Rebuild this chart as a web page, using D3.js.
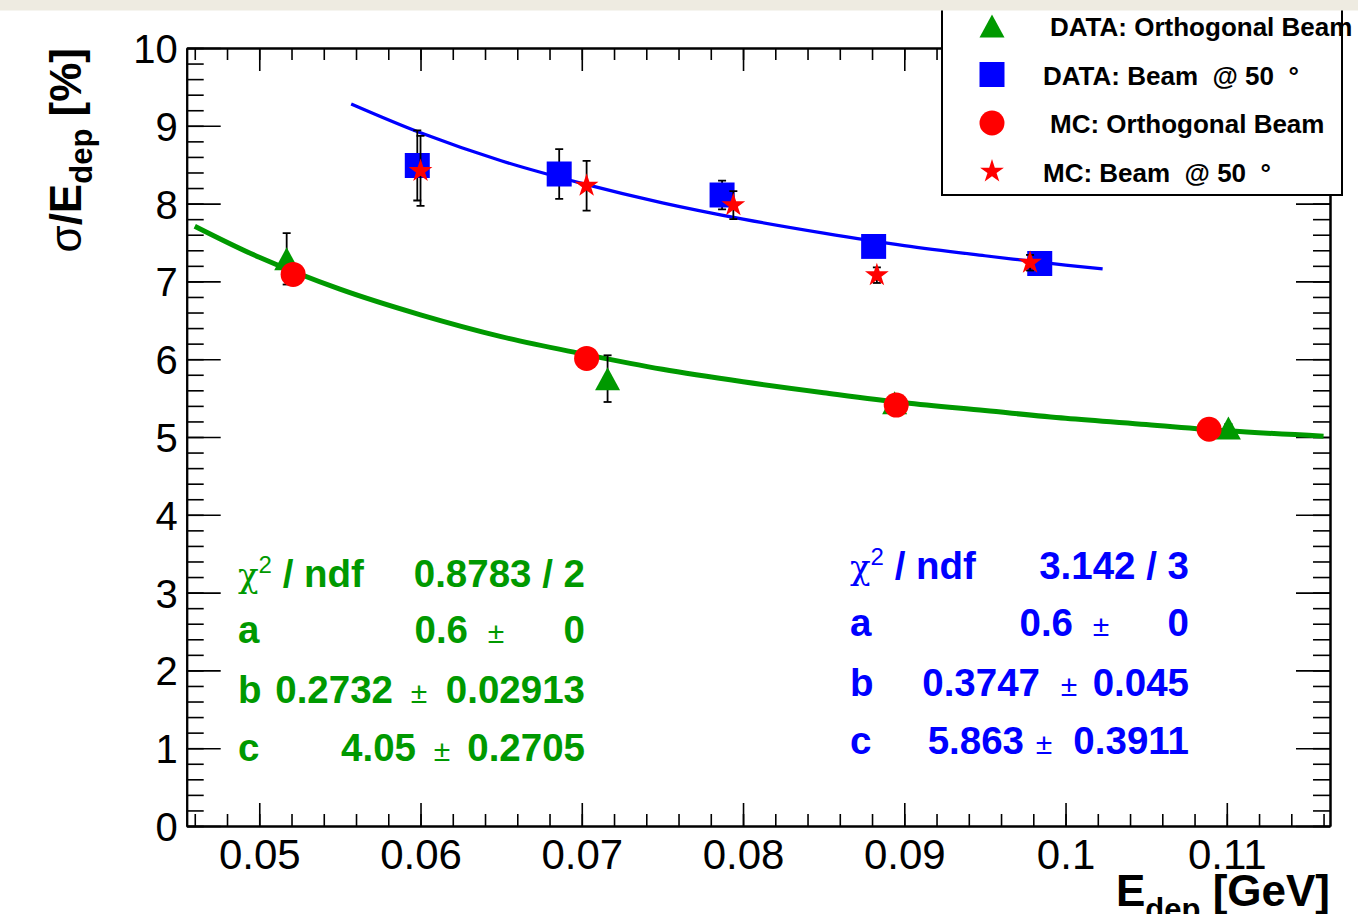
<!DOCTYPE html>
<html>
<head>
<meta charset="utf-8">
<script src="https://cdn.jsdelivr.net/npm/d3@7"></script>
<style>
  html, body { margin: 0; padding: 0; background: #fff; }
  svg { display: block; font-family: "Liberation Sans", Arial, Helvetica, sans-serif; }
</style>
</head>
<body>
<div id="chart"></div>
<script>
// ---- values ----
// DATA: orthogonal beam (green triangles)
const orthoDataE   = [0.0517, 0.0716, 0.0894, 0.1101];
const orthoDataRes = [7.29, 5.75, 5.44, 5.115];
const orthoDataErr = [0.33, 0.30, 0.05, 0.05];

// DATA: beam @ 50 deg (blue squares)
const beamDataE   = [0.0598, 0.0686, 0.0787, 0.0881, 0.0984];
const beamDataRes = [8.49, 8.38, 8.11, 7.45, 7.23];
const beamDataErr = [0.45, 0.32, 0.185, 0.08, 0.08];

// MC: orthogonal beam (red circles)
const orthoMcE   = [0.0521, 0.0703, 0.0895, 0.1089];
const orthoMcRes = [7.09, 6.01, 5.41, 5.10];
const orthoMcErr = [0.05, 0.05, 0.05, 0.05];

// MC: beam @ 50 deg (red stars)
const beamMcE   = [0.0600, 0.0703, 0.0794, 0.0883, 0.0978];
const beamMcRes = [8.42, 8.23, 7.98, 7.08, 7.24];
const beamMcErr = [0.45, 0.32, 0.18, 0.10, 0.10];

// fit curves
const orthoFitE   = [0.046, 0.050, 0.055, 0.060, 0.065, 0.070, 0.075, 0.080, 0.085, 0.090, 0.095, 0.100, 0.105, 0.110, 0.116];
const orthoFitRes = [7.71, 7.31, 6.90, 6.57, 6.29, 6.07, 5.87, 5.71, 5.57, 5.44, 5.34, 5.24, 5.16, 5.08, 5.01];
const beamFitE   = [0.0557, 0.060, 0.065, 0.070, 0.075, 0.080, 0.085, 0.090, 0.095, 0.100, 0.1023];
const beamFitRes = [9.28, 8.91, 8.55, 8.26, 8.01, 7.80, 7.62, 7.46, 7.33, 7.21, 7.16];

// fit results as printed
const orthoFitNames  = ["a", "b", "c"];
const orthoFitValues = ["0.6", "0.2732", "4.05"];
const orthoFitErrors = ["0", "0.02913", "0.2705"];
const orthoChi2 = "0.8783 / 2";
const beamFitNames  = ["a", "b", "c"];
const beamFitValues = ["0.6", "0.3747", "5.863"];
const beamFitErrors = ["0", "0.045", "0.3911"];
const beamChi2 = "3.142 / 3";

// axes
const xDomain = [0.0455, 0.1164];
const yDomain = [0, 10];
const xTicks = [0.05, 0.06, 0.07, 0.08, 0.09, 0.10, 0.11];
const xTickLabels = ["0.05", "0.06", "0.07", "0.08", "0.09", "0.1", "0.11"];
const yTicks = [0, 1, 2, 3, 4, 5, 6, 7, 8, 9, 10];
const yTickLabels = ["0", "1", "2", "3", "4", "5", "6", "7", "8", "9", "10"];

const legendLabels = ["DATA: Orthogonal Beam", "DATA: Beam  @ 50  \u00b0", "MC: Orthogonal Beam", "MC: Beam  @ 50  \u00b0"];

// ---- layout ----
const width = 1358, height = 914;
const frame = { left: 186.7, right: 1330, top: 48, bottom: 826 };
const GREEN = "#009900", BLUE = "#0000ff", RED = "#ff0000";
const FONT = "'Liberation Sans', Arial, Helvetica, sans-serif";

const x = d3.scaleLinear().domain(xDomain).range([frame.left, frame.right]);
const y = d3.scaleLinear().domain(yDomain).range([frame.bottom, frame.top]);

const svg = d3.select("#chart").append("svg")
  .attr("width", width)
  .attr("height", height);

svg.append("rect").attr("width", width).attr("height", height).attr("fill", "#fff");

svg.append("clipPath").attr("id", "frameClip")
  .append("rect")
  .attr("x", frame.left).attr("y", frame.top)
  .attr("width", frame.right - frame.left).attr("height", frame.bottom - frame.top);

// minor tick values
const xMinor = d3.range(0.046, 0.1165, 0.002).map((v) => +v.toFixed(4));
const yMinor = d3.range(0, 10.001, 0.2).map((v) => +v.toFixed(2));

const styleAxis = (g, w) => {
  g.select(".domain").attr("stroke", "#000").attr("stroke-width", 2);
  g.selectAll(".tick line").attr("stroke", "#000").attr("stroke-width", w);
};

// bottom
svg.append("g")
  .attr("transform", `translate(0,${frame.bottom})`)
  .call(d3.axisBottom(x).tickValues(xMinor).tickSize(-12).tickSizeOuter(0).tickFormat(""))
  .call((g) => styleAxis(g, 1.6));
const xAxisG = svg.append("g")
  .attr("transform", `translate(0,${frame.bottom})`)
  .call(d3.axisBottom(x).tickValues(xTicks).tickSize(-23).tickSizeOuter(0).tickPadding(13)
    .tickFormat((d, i) => xTickLabels[i]))
  .call((g) => styleAxis(g, 1.6));
xAxisG.selectAll("text").attr("font-size", 42).attr("font-family", FONT).attr("fill", "#000");

// top
svg.append("g")
  .attr("transform", `translate(0,${frame.top})`)
  .call(d3.axisTop(x).tickValues(xMinor).tickSize(-12).tickSizeOuter(0).tickFormat(""))
  .call((g) => styleAxis(g, 1.6));
svg.append("g")
  .attr("transform", `translate(0,${frame.top})`)
  .call(d3.axisTop(x).tickValues(xTicks).tickSize(-23).tickSizeOuter(0).tickFormat(""))
  .call((g) => styleAxis(g, 1.6));

// left
svg.append("g")
  .attr("transform", `translate(${frame.left},0)`)
  .call(d3.axisLeft(y).tickValues(yMinor).tickSize(-17).tickSizeOuter(0).tickFormat(""))
  .call((g) => styleAxis(g, 1.6));
const yAxisG = svg.append("g")
  .attr("transform", `translate(${frame.left},0)`)
  .call(d3.axisLeft(y).tickValues(yTicks).tickSize(-34).tickSizeOuter(0).tickPadding(9)
    .tickFormat((d, i) => yTickLabels[i]))
  .call((g) => styleAxis(g, 1.6));
yAxisG.selectAll("text").attr("font-size", 40).attr("font-family", FONT).attr("fill", "#000")
  .attr("dy", "0.36em");

// right
svg.append("g")
  .attr("transform", `translate(${frame.right},0)`)
  .call(d3.axisRight(y).tickValues(yMinor).tickSize(-17).tickSizeOuter(0).tickFormat(""))
  .call((g) => styleAxis(g, 1.6));
svg.append("g")
  .attr("transform", `translate(${frame.right},0)`)
  .call(d3.axisRight(y).tickValues(yTicks).tickSize(-34).tickSizeOuter(0).tickFormat(""))
  .call((g) => styleAxis(g, 1.6));

// axis titles
const xTitle = svg.append("text")
  .attr("x", frame.right).attr("y", 906)
  .attr("text-anchor", "end")
  .attr("font-size", 44).attr("font-weight", "bold");
xTitle.append("tspan").text("E");
xTitle.append("tspan").attr("font-size", 31).attr("dy", 14).text("dep");
xTitle.append("tspan").attr("dy", -14).text("\u00a0[GeV]");

const yTitle = svg.append("text")
  .attr("transform", `translate(81,${frame.top}) rotate(-90)`)
  .attr("text-anchor", "end")
  .attr("font-size", 44).attr("font-weight", "bold");
yTitle.append("tspan").attr("font-weight", "normal").text("\u03c3");
yTitle.append("tspan").text("/E");
yTitle.append("tspan").attr("font-size", 31).attr("dy", 11).text("dep");
yTitle.append("tspan").attr("dy", -11).text("\u00a0[%]");

// ---- fit curves ----
const line = d3.line()
  .x((d) => x(d[0]))
  .y((d) => y(d[1]))
  .curve(d3.curveCatmullRom);

const plot = svg.append("g").attr("clip-path", "url(#frameClip)");

plot.append("path")
  .datum(d3.zip(orthoFitE, orthoFitRes))
  .attr("d", line)
  .attr("fill", "none").attr("stroke", GREEN).attr("stroke-width", 5);

plot.append("path")
  .datum(d3.zip(beamFitE, beamFitRes))
  .attr("d", line)
  .attr("fill", "none").attr("stroke", BLUE).attr("stroke-width", 3.2);

// ---- markers ----
const markerPath = {
  triangle: "M0,-11.5L12.5,11.5L-12.5,11.5Z",
  square: "M-12.5,-12.5h25v25h-25Z",
  circle: d3.symbol(d3.symbolCircle, Math.PI * 12.5 * 12.5)(),
  star: d3.symbol(d3.symbolStar, 175)(),
};

function drawGraph(es, vals, errs, marker, color) {
  const pts = d3.zip(es, vals, errs);
  const g = plot.append("g");
  const eb = g.selectAll("g.err").data(pts).join("g").attr("class", "err")
    .attr("stroke", "#000").attr("stroke-width", 1.8);
  eb.append("line")
    .attr("x1", (d) => x(d[0])).attr("x2", (d) => x(d[0]))
    .attr("y1", (d) => y(d[1] + d[2])).attr("y2", (d) => y(d[1] - d[2]));
  eb.append("line")
    .attr("x1", (d) => x(d[0]) - 4).attr("x2", (d) => x(d[0]) + 4)
    .attr("y1", (d) => y(d[1] + d[2])).attr("y2", (d) => y(d[1] + d[2]));
  eb.append("line")
    .attr("x1", (d) => x(d[0]) - 4).attr("x2", (d) => x(d[0]) + 4)
    .attr("y1", (d) => y(d[1] - d[2])).attr("y2", (d) => y(d[1] - d[2]));
  g.selectAll("path.mk").data(pts).join("path").attr("class", "mk")
    .attr("d", markerPath[marker])
    .attr("transform", (d) => `translate(${x(d[0])},${y(d[1])})`)
    .attr("fill", color);
}

drawGraph(orthoDataE, orthoDataRes, orthoDataErr, "triangle", GREEN);
drawGraph(beamDataE, beamDataRes, beamDataErr, "square", BLUE);
drawGraph(orthoMcE, orthoMcRes, orthoMcErr, "circle", RED);
drawGraph(beamMcE, beamMcRes, beamMcErr, "star", RED);

// ---- fit statistics ----
function drawStats(color, x0, xEnd, rowsY, valEnds, pmXs, chi2, names, values, errors) {
  const g = svg.append("g").attr("fill", color).attr("font-weight", "bold").attr("font-size", 38.5);
  const t0 = g.append("text").attr("x", x0).attr("y", rowsY[0]);
  t0.append("tspan").attr("font-weight", "normal").attr("font-family", "'DejaVu Serif', serif").attr("font-size", 34).text("\u03c7");
  t0.append("tspan").attr("font-size", 24).attr("font-weight", "normal").attr("dy", -14).text("2");
  t0.append("tspan").attr("dy", 14).text("\u00a0/ ndf");
  g.append("text").attr("x", xEnd).attr("y", rowsY[0]).attr("text-anchor", "end").text(chi2);
  names.forEach((n, i) => {
    const yy = rowsY[i + 1];
    g.append("text").attr("x", x0).attr("y", yy).text(n);
    g.append("text").attr("x", valEnds[i]).attr("y", yy).attr("text-anchor", "end").text(values[i]);
    g.append("text").attr("x", pmXs[i]).attr("y", yy).attr("text-anchor", "middle")
      .attr("font-weight", "normal").attr("font-size", 30).text("\u00b1");
    g.append("text").attr("x", xEnd).attr("y", yy).attr("text-anchor", "end").text(errors[i]);
  });
}

drawStats(GREEN, 238, 585, [587, 643, 703, 761], [468, 393, 416], [496, 419, 442],
  orthoChi2, orthoFitNames, orthoFitValues, orthoFitErrors);
drawStats(BLUE, 850, 1189, [579, 636, 696, 754], [1073, 1040, 1024], [1101, 1069, 1044],
  beamChi2, beamFitNames, beamFitValues, beamFitErrors);

// ---- legend ----
const legend = svg.append("g");
legend.append("rect")
  .attr("x", 942).attr("y", -4).attr("width", 400).attr("height", 199)
  .attr("fill", "#fff").attr("stroke", "#000").attr("stroke-width", 2);
const legendMarkers = ["triangle", "square", "circle", "star"];
const legendColors = [GREEN, BLUE, RED, RED];
const legendTextX = [1050, 1043, 1050, 1043];
legendLabels.forEach((lab, i) => {
  const by = 36 + i * 48.5;
  legend.append("path")
    .attr("d", markerPath[legendMarkers[i]])
    .attr("transform", `translate(992,${by - 10})`)
    .attr("fill", legendColors[i]);
  legend.append("text")
    .attr("x", legendTextX[i]).attr("y", by)
    .attr("font-size", 26).attr("font-weight", "bold")
    .attr("xml:space", "preserve")
    .style("white-space", "pre")
    .text(lab);
});

// slide strip at the very top
svg.append("rect").attr("x", 0).attr("y", 0).attr("width", width).attr("height", 10.5).attr("fill", "#eeebe1");
</script>
</body>
</html>
